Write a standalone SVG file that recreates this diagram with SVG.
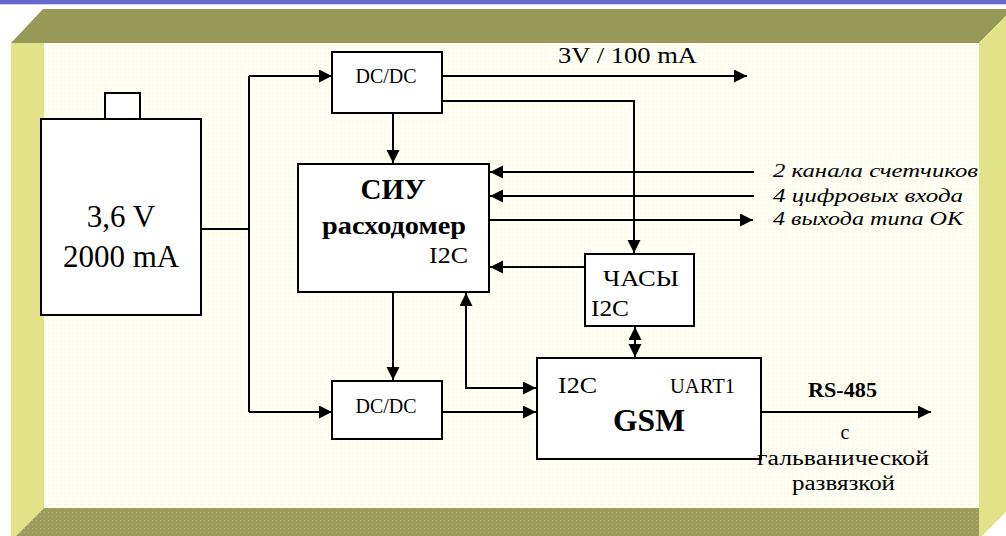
<svg xmlns="http://www.w3.org/2000/svg" width="1006" height="536" viewBox="0 0 1006 536">
<style>
.box{fill:#ffffff;stroke:#000;stroke-width:2}
.ln{fill:none;stroke:#000;stroke-width:2}
.ar{marker-end:url(#ah)}
.b{font-weight:bold}
.mid{text-anchor:middle}
.it{font-style:italic;font-size:19px}
</style>
<defs>
<marker id="ah" markerUnits="userSpaceOnUse" markerWidth="14" markerHeight="14" refX="13" refY="6.5" orient="auto-start-reverse">
<path d="M0,0 L13,6.5 L0,13 z" fill="#000"/>
</marker>
<pattern id="dots" width="4" height="4" patternUnits="userSpaceOnUse">
<rect width="4" height="4" fill="#fffff4"/>
<rect width="1" height="1" fill="#f4f4d4"/>
</pattern>
<pattern id="olivepat" width="4" height="4" patternUnits="userSpaceOnUse">
<rect width="4" height="4" fill="#9c9c5c"/>
<rect width="1" height="1" fill="#b4b47a"/>
</pattern>
</defs>
<g id="frame">
<rect x="0" y="0" width="1006" height="4" fill="#6868cc"/>
<rect x="0" y="4" width="1006" height="1" fill="#d0d0ec"/>
<rect x="0" y="5" width="1006" height="531" fill="#ffffff"/>
<rect x="44" y="43" width="935" height="465" fill="url(#dots)"/>
<polygon points="43,9 1006,9 1006,16 979,43 11,43" fill="#999957"/>
<polygon points="11,43 44,43 44,508 16,536 11,536" fill="#e2e288"/>
<polygon points="979,43 1006,16 1006,512 982,536 979,536" fill="#e2e288"/>
<polygon points="44,508 979,508 979,536 16,536" fill="url(#olivepat)"/>
</g>
<g id="connectors">
<polyline class="ln" points="201,229 249,229"/>
<polyline class="ln" points="249,76 249,412"/>
<polyline class="ln ar" points="249,76 332,76"/>
<polyline class="ln ar" points="249,412 332,412"/>
<polyline class="ln ar" points="442,76 747,76"/>
<polyline class="ln ar" points="442,101 634,101 634,253"/>
<polyline class="ln ar" points="393,113 393,163"/>
<polyline class="ln ar" points="754,172 490,172"/>
<polyline class="ln ar" points="754,196 490,196"/>
<polyline class="ln ar" points="489,220 753,220"/>
<polyline class="ln ar" points="585,267 490,267"/>
<polyline class="ln ar" points="635,342 635,327"/>
<polyline class="ln ar" points="635,342 635,357"/>
<polyline class="ln ar" points="393,292 393,380"/>
<polyline class="ln" points="466,293 466,388 536,388" style="marker-start:url(#ah);marker-end:url(#ah)"/>
<polyline class="ln ar" points="442,412 536,412"/>
<polyline class="ln ar" points="761,412 931,412"/>
</g>
<g fill="#000" font-family="'Liberation Serif', 'Times New Roman', serif">
<g id="battery">
<rect class="box" x="105" y="93" width="35" height="26"/>
<rect class="box" x="41" y="119" width="160" height="196"/>
<text class="mid" x="121" y="227" font-size="31">3,6 V</text>
<text class="mid" x="121" y="267" font-size="31">2000 mA</text>
</g>
<g id="dcdc-top">
<rect class="box" x="332" y="52" width="110" height="61"/>
<text class="mid" x="386" y="83" font-size="20">DC/DC</text>
</g>
<g id="siu">
<rect class="box" x="298" y="164" width="191" height="128"/>
<text class="b mid" x="393" y="199" font-size="29">СИУ</text>
<text class="b" x="322" y="234" font-size="25" textLength="144" lengthAdjust="spacingAndGlyphs">расходомер</text>
<text x="429" y="263" font-size="23" textLength="39" lengthAdjust="spacingAndGlyphs">I2C</text>
</g>
<g id="clock">
<rect class="box" x="585" y="254" width="109" height="72"/>
<text x="603" y="286" font-size="24" textLength="76" lengthAdjust="spacingAndGlyphs">ЧАСЫ</text>
<text x="591" y="316" font-size="24" textLength="38" lengthAdjust="spacingAndGlyphs">I2C</text>
</g>
<g id="dcdc-bottom">
<rect class="box" x="332" y="381" width="110" height="58"/>
<text class="mid" x="386" y="413" font-size="20">DC/DC</text>
</g>
<g id="gsm">
<rect class="box" x="537" y="358" width="224" height="101"/>
<text x="558" y="393" font-size="24" textLength="39" lengthAdjust="spacingAndGlyphs">I2C</text>
<text x="670" y="393" font-size="20" textLength="65" lengthAdjust="spacingAndGlyphs">UART1</text>
<text class="b" x="613" y="431" font-size="31" textLength="72" lengthAdjust="spacingAndGlyphs">GSM</text>
</g>
<g id="labels">
<text x="558" y="63" font-size="23" textLength="139" lengthAdjust="spacingAndGlyphs">3V / 100 mA</text>
<text class="it" x="773" y="177" textLength="205" lengthAdjust="spacingAndGlyphs">2 канала счетчиков</text>
<text class="it" x="773" y="202" textLength="190" lengthAdjust="spacingAndGlyphs">4 цифровых входа</text>
<text class="it" x="773" y="225" textLength="190" lengthAdjust="spacingAndGlyphs">4 выхода типа ОК</text>
<text class="b" x="808" y="397" font-size="21" textLength="69" lengthAdjust="spacingAndGlyphs">RS-485</text>
<text class="mid" x="845" y="439" font-size="20">с</text>
<text x="757" y="465" font-size="20" textLength="172" lengthAdjust="spacingAndGlyphs">гальванической</text>
<text x="792" y="490" font-size="20" textLength="103" lengthAdjust="spacingAndGlyphs">развязкой</text>
</g>
</g>
</svg>
